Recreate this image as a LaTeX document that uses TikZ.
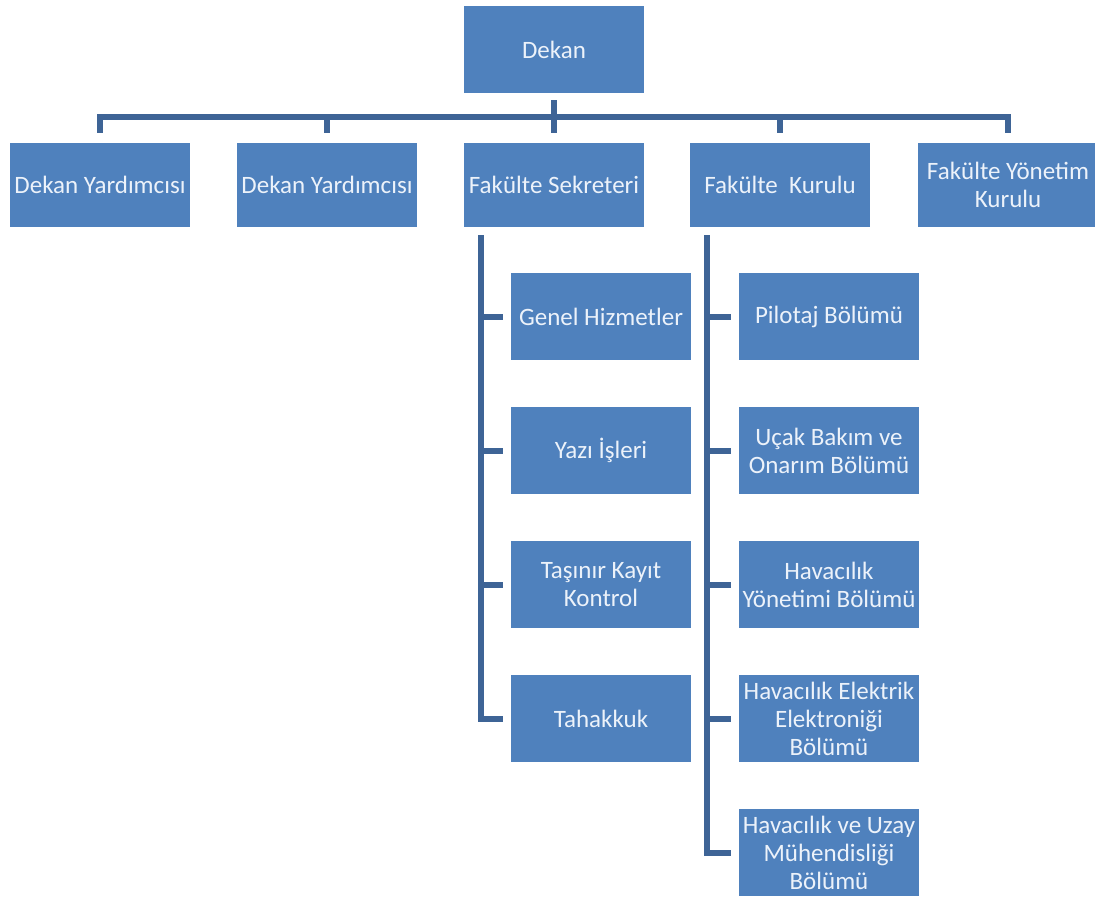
\documentclass[tikz,border=0pt]{standalone}
\usepackage{fontspec}
\setmainfont{Carlito}
\usepackage{xcolor}

\definecolor{kutu}{RGB}{79,129,189}
\definecolor{hat}{RGB}{62,100,150}
\definecolor{yazirenk}{RGB}{236,242,250}

\begin{document}
\begin{tikzpicture}[x=1pt,y=-1pt,
  birim/.style={fill=kutu,text=yazirenk,minimum width=180pt,minimum height=87pt,
    inner sep=0pt,align=center,font=\fontsize{25}{28}\selectfont},
  ustbirim/.style={birim,minimum height=84pt},
  baglanti/.style={draw=hat,line width=6pt,line join=miter}]
  % Sayfa sinirlari
  \useasboundingbox (0,0) rectangle (1095,897);

  % Dekan ve ust sira
  \node[birim] (dekan) at (554,49.5) {Dekan};
  \node[ustbirim] (yrd1) at (100,185) {Dekan Yardımcısı};
  \node[ustbirim] (yrd2) at (327,185) {Dekan Yardımcısı};
  \node[ustbirim] (sekreter) at (554,185) {Fakülte Sekreteri};
  \node[ustbirim] (kurul) at (780,185) {Fakülte~ Kurulu};
  \node[ustbirim] (ykurul) at (1008,185) {Fakülte Yönetim\\Kurulu};

  % Sekreterlige bagli birimler
  \foreach \n/\t [count=\i from 0] in {genel/Genel Hizmetler,yazi/Yazı İşleri,
      tasinir/{Taşınır Kayıt\\Kontrol},tahakkuk/Tahakkuk}
    \node[birim] (\n) at (601,316.5+134*\i) {\t};

  % Fakulte kuruluna bagli bolumler
  \foreach \n/\t [count=\i from 0] in {pilotaj/Pilotaj Bölümü,
      ucak/{Uçak Bakım ve\\Onarım Bölümü},yonetim/{Havacılık\\Yönetimi Bölümü},
      elektrik/{Havacılık Elektrik\\Elektroniği\\Bölümü},
      uzay/{Havacılık ve Uzay\\Mühendisliği\\Bölümü}}
    \node[birim] (\n) at (829,316.5+134*\i) {\t};

  % Ust baglantilar
  \coordinate (bus) at (554,117);
  \draw[baglanti,shorten <=7pt,shorten >=10pt] (dekan) -- (sekreter);
  \draw[baglanti,shorten <=10pt,shorten >=10pt] (yrd1.north) |- (bus) -| (ykurul.north);
  \foreach \n in {yrd2,kurul}
    \draw[baglanti,shorten >=10pt] (bus -| \n.north) -- (\n.north);

  % Dal baglantilari
  \coordinate (sk) at ([xshift=17pt]sekreter.south west);
  \coordinate (fk) at ([xshift=17pt]kurul.south west);
  \draw[baglanti,shorten <=8pt,shorten >=8pt] (sk) |- (tahakkuk.west);
  \foreach \n in {genel,yazi,tasinir}
    \draw[baglanti,shorten >=8pt] (sk |- \n.west) -- (\n.west);
  \draw[baglanti,shorten <=8pt,shorten >=8pt] (fk) |- (uzay.west);
  \foreach \n in {pilotaj,ucak,yonetim,elektrik}
    \draw[baglanti,shorten >=8pt] (fk |- \n.west) -- (\n.west);
\end{tikzpicture}
\end{document}
